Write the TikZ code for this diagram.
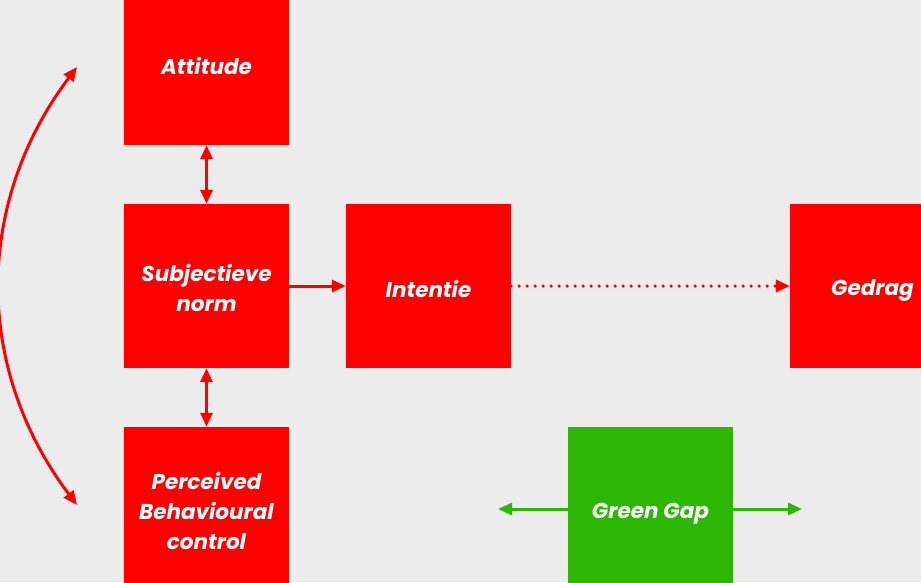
\documentclass[tikz,border=0pt]{standalone}
\usepackage{fontspec}
\setmainfont{Poppins}
\usetikzlibrary{matrix}
\usetikzlibrary{arrows.meta}
\definecolor{tpbRed}{HTML}{FF0000}
\definecolor{gapGreen}{HTML}{2BB704}
\definecolor{canvasGrey}{HTML}{ECECEC}
\newcommand\tallStrut{\rule{0pt}{22pt}}

\begin{document}
\begin{tikzpicture}[x=1pt, y=1pt, >={Triangle[length=14pt, width=12pt]},
    tpb box/.style={fill=tpbRed, text=white, minimum width=165pt, minimum height=164pt,
      inner sep=0pt, align=center, font=\fontsize{21.5}{30}\selectfont\bfseries\itshape,
      execute at begin node={\rule{0pt}{24pt}}},
    gap box/.style={tpb box, fill=gapGreen},
    tpb arrow/.style={draw=tpbRed, line width=3pt},
    gap arrow/.style={draw=gapGreen, line width=3pt, ->}]
    \path[use as bounding box, fill=canvasGrey] (0,0) rectangle (921,582);
    \clip (0,0) rectangle (921,582);
    \matrix
      [
        name=m,
        anchor=center,
        column sep=57pt,
        row sep=59pt
      ] at (539.5,296)
      {
        \node[tpb box] (att) {Attitude}; & & & \\
        \node[tpb box] (subj) {\tallStrut Subjectieve\\norm}; &
        \node[tpb box] (int) {Intentie}; & &
        \node[tpb box] (ged) {Gedrag}; \\
        \node[tpb box] (pbc) {\tallStrut Perceived\\Behavioural\\control}; & &
        \node[gap box] (gap) {Green Gap}; & \\
      };
    \coordinate (gapL) at (498,73);
    \coordinate (gapR) at (802,73);
    \coordinate (arcTop) at (77,515);
    \coordinate (arcBot) at (77,77);
    \path[tpb arrow]
      (att) edge[tpb arrow, <->] (subj)
      (subj) edge[tpb arrow, <->] (pbc)
      (subj) edge[tpb arrow, ->] (int)
      (int) edge[tpb arrow, ->, line width=3.5pt, line cap=round, dash pattern=on 0pt off 8pt] (ged)
      (arcTop) edge[tpb arrow, <->, bend right=37] (arcBot);
    \path[gap arrow]
      (gap) edge[gap arrow] (gapL)
      (gap) edge[gap arrow] (gapR);
\end{tikzpicture}
\end{document}
